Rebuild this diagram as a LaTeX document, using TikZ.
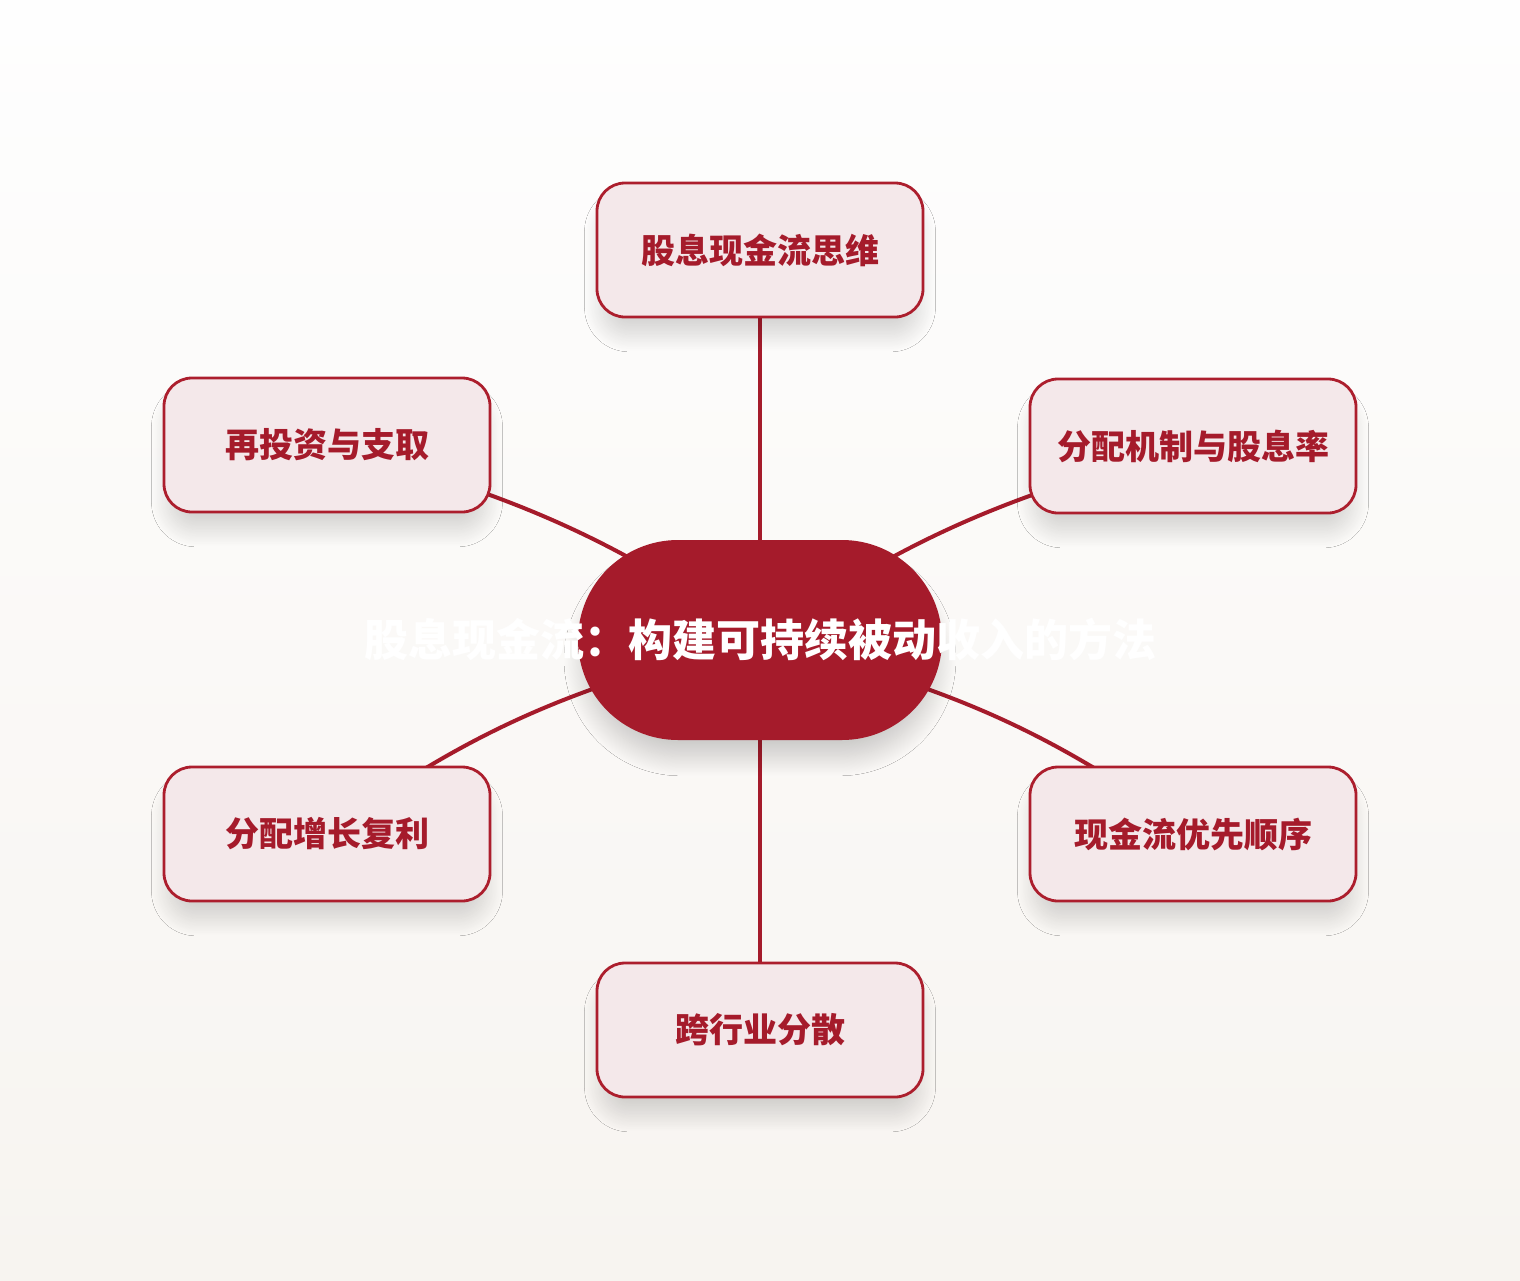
\documentclass[tikz,border=0pt]{standalone}
\usepackage{fontspec}
\newfontfamily\cjk{Noto Sans CJK SC}
\usetikzlibrary{shadows.blur,backgrounds}
\definecolor{dred}{RGB}{165,27,43}
\definecolor{bred}{RGB}{172,30,45}
\definecolor{pinkbox}{RGB}{244,232,234}
\definecolor{bgtop}{RGB}{254,254,254}
\definecolor{bgbot}{RGB}{247,244,240}
\tikzset{
  topic/.style={draw=bred, line width=1.4pt, fill=pinkbox, rounded corners=14pt,
    minimum width=163pt, minimum height=67pt, text=dred,
    font=\cjk\bfseries\fontsize{17pt}{20pt}\selectfont,
    blur shadow={shadow xshift=0pt, shadow yshift=-10pt, shadow scale=0.97,
      shadow blur radius=9pt, shadow blur steps=25, shadow opacity=16}},
  hub/.style={fill=dred, rounded corners=50pt, minimum width=182pt, minimum height=100pt,
    blur shadow={shadow xshift=0pt, shadow yshift=-10pt, shadow scale=0.97,
      shadow blur radius=10pt, shadow blur steps=25, shadow opacity=20}},
  link/.style={draw=dred, line width=2pt}
}

\begin{document}
\begin{tikzpicture}[x=0.5pt, y=0.5pt]

    \useasboundingbox (0,0) rectangle (1520,-1280);

    \draw(760,-640) node[hub, label={[text=white, font=\cjk\bfseries\fontsize{22pt}{26pt}\selectfont]center:股息现金流：构建可持续被动收入的方法}] (hub) {};

    \draw(760,-250) node[topic] (mindset) {股息现金流思维};
    \draw(327,-445) node[topic] (reinvest) {再投资与支取};
    \draw(1193,-446) node[topic] (payout) {分配机制与股息率};
    \draw(327,-834) node[topic] (growth) {分配增长复利};
    \draw(1193,-834) node[topic] (priority) {现金流优先顺序};
    \draw(760,-1030) node[topic] (sectors) {跨行业分散};

    \begin{scope}[on background layer]
    \shade[top color=bgtop, bottom color=bgbot] (0,0) rectangle (1520,-1280);
    \draw[link] (hub.center) to (mindset.center);
    \draw[link] (hub.center) to (sectors.center);
    \draw[link] (hub.center) to[out=145, in=-15] (reinvest.center);
    \draw[link] (hub.center) to[out=35, in=195] (payout.center);
    \draw[link] (hub.center) to[out=194, in=36] (growth.center);
    \draw[link] (hub.center) to[out=-14, in=144] (priority.center);
    \end{scope}

    \end{tikzpicture}
\end{document}
